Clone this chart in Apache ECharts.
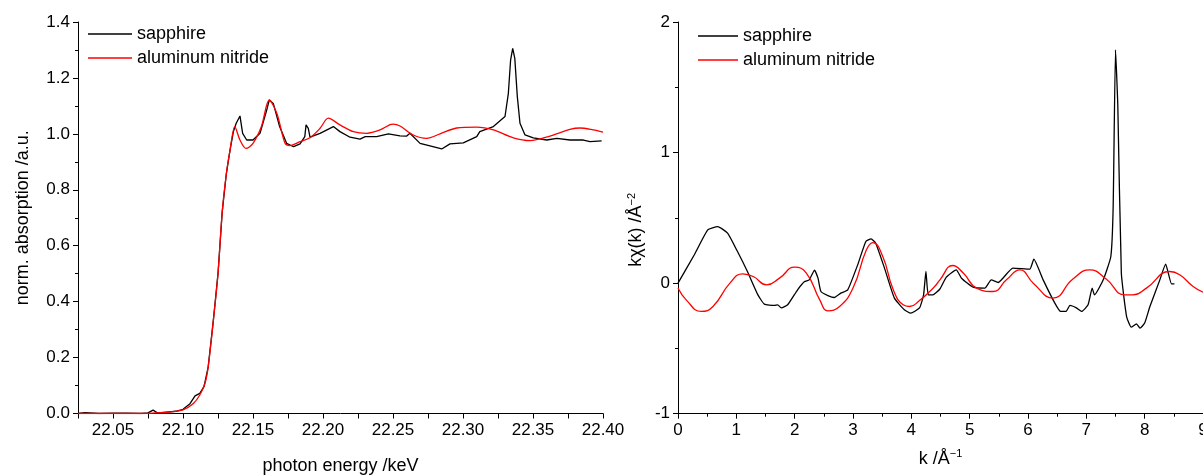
<!DOCTYPE html>
<html>
<head>
<meta charset="utf-8">
<script src="https://cdn.jsdelivr.net/npm/echarts@6/dist/echarts.min.js"></script>
<style>
  html, body { margin: 0; padding: 0; background: #fff; }
  #chart { width: 1203px; height: 475px; }
</style>
</head>
<body>
<div id="chart"></div>
<script>
// XANES (left)
var sapphireE = [22.025, 22.03, 22.04, 22.05, 22.06, 22.07, 22.075, 22.0786, 22.082, 22.09, 22.095, 22.10, 22.105, 22.1086, 22.112, 22.115, 22.118, 22.1217, 22.125, 22.128, 22.131, 22.1336, 22.136, 22.138, 22.1407, 22.1426, 22.1455, 22.150, 22.155, 22.1598, 22.1616, 22.1645, 22.169, 22.174, 22.179, 22.1836, 22.187, 22.1879, 22.1895, 22.1907, 22.1979, 22.2074, 22.2121, 22.2193, 22.2264, 22.2302, 22.2383, 22.2467, 22.255, 22.2598, 22.2621, 22.2693, 22.2764, 22.2848, 22.2907, 22.3002, 22.3098, 22.312, 22.3217, 22.33, 22.3324, 22.334, 22.3355, 22.337, 22.3388, 22.3407, 22.3443, 22.3502, 22.3598, 22.367, 22.3764, 22.386, 22.3907, 22.399];
var sapphireMu = [0, 0.003, 0, 0.001, 0.001, 0, 0.002, 0.012, 0.002, 0.006, 0.008, 0.015, 0.035, 0.063, 0.072, 0.096, 0.167, 0.334, 0.50, 0.72, 0.859, 0.942, 1.008, 1.038, 1.064, 1.002, 0.978, 0.978, 1.002, 1.085, 1.121, 1.109, 1.026, 0.966, 0.954, 0.964, 0.99, 1.032, 1.020, 0.988, 1.002, 1.026, 1.008, 0.988, 0.981, 0.99, 0.99, 1.0, 0.993, 0.992, 1.002, 0.966, 0.957, 0.946, 0.964, 0.968, 0.99, 1.008, 1.026, 1.062, 1.145, 1.264, 1.306, 1.27, 1.133, 1.038, 0.996, 0.986, 0.978, 0.984, 0.978, 0.978, 0.972, 0.975];

var alnE = [22.025, 22.05, 22.07, 22.08, 22.09, 22.10, 22.1074, 22.112, 22.1157, 22.118, 22.1217, 22.125, 22.128, 22.131, 22.1336, 22.137, 22.1407, 22.145, 22.150, 22.156, 22.1616, 22.167, 22.1729, 22.1764, 22.1836, 22.1907, 22.1979, 22.2038, 22.2121, 22.2217, 22.2312, 22.2407, 22.2479, 22.2502, 22.255, 22.2645, 22.274, 22.2836, 22.2955, 22.3098, 22.3217, 22.336, 22.3479, 22.3621, 22.3764, 22.3836, 22.393, 22.40];
var alnMu = [0, 0, 0, 0.002, 0.005, 0.013, 0.036, 0.066, 0.108, 0.167, 0.334, 0.50, 0.72, 0.859, 0.942, 1.026, 0.978, 0.948, 0.966, 1.026, 1.121, 1.074, 0.966, 0.958, 0.972, 0.986, 1.02, 1.056, 1.032, 1.008, 1.002, 1.014, 1.033, 1.035, 1.028, 0.996, 0.984, 1.0, 1.021, 1.024, 1.014, 0.986, 0.976, 0.992, 1.016, 1.021, 1.014, 1.006];

// EXAFS (right)
var sapphireK = [0, 0.28, 0.51, 0.68, 0.85, 1.02, 1.19, 1.37, 1.48, 1.65, 1.71, 1.77, 1.88, 2.05, 2.17, 2.25, 2.34, 2.40, 2.45, 2.57, 2.68, 2.79, 2.91, 3.08, 3.22, 3.31, 3.39, 3.54, 3.71, 3.88, 3.99, 4.14, 4.21, 4.25, 4.29, 4.37, 4.49, 4.60, 4.77, 4.86, 5.06, 5.26, 5.37, 5.49, 5.74, 6.03, 6.10, 6.26, 6.46, 6.56, 6.65, 6.72, 6.83, 6.92, 7.03, 7.10, 7.14, 7.29, 7.42, 7.46, 7.50, 7.54, 7.60, 7.69, 7.77, 7.86, 7.92, 8.00, 8.09, 8.26, 8.36, 8.46, 8.51];
var sapphireChi = [0, 0.217, 0.408, 0.433, 0.383, 0.242, 0.089, -0.09, -0.161, -0.171, -0.166, -0.19, -0.166, -0.051, 0.012, 0.025, 0.10, 0.038, -0.064, -0.095, -0.11, -0.077, -0.051, 0.14, 0.319, 0.339, 0.306, 0.115, -0.115, -0.204, -0.23, -0.19, -0.09, 0.089, -0.09, -0.09, -0.045, 0.046, 0.102, 0.038, -0.031, -0.038, 0.025, 0.005, 0.115, 0.107, 0.184, 0.025, -0.153, -0.217, -0.217, -0.171, -0.19, -0.217, -0.166, -0.038, -0.09, 0.025, 0.204, 0.587, 1.786, 1.352, 0.077, -0.256, -0.337, -0.312, -0.345, -0.306, -0.179, 0.025, 0.145, -0.005, -0.005];

var alnK = [0, 0.14, 0.40, 0.60, 0.89, 1.11, 1.29, 1.52, 1.74, 2.0, 2.20, 2.43, 2.57, 2.77, 3.0, 3.23, 3.34, 3.51, 3.69, 3.86, 3.97, 4.14, 4.40, 4.49, 4.71, 4.89, 5.12, 5.40, 5.63, 5.86, 6.09, 6.43, 6.77, 7.06, 7.34, 7.66, 7.80, 8.03, 8.43, 8.60, 8.83, 9.0];
var alnChi = [-0.038, -0.128, -0.217, -0.179, 0, 0.071, 0.051, -0.013, 0.038, 0.122, 0.077, -0.128, -0.212, -0.179, -0.038, 0.255, 0.311, 0.204, -0.051, -0.166, -0.179, -0.133, -0.026, 0.025, 0.135, 0.077, -0.038, -0.064, 0.025, 0.102, 0, -0.115, 0.031, 0.102, 0.031, -0.09, -0.09, -0.038, 0.089, 0.064, -0.026, -0.069];

function pairs(xs, ys) {
    return xs.map(function (x, i) { return [x, ys[i]]; });
}

var font = 'Liberation Sans, Arial, sans-serif';
var chart = echarts.init(document.getElementById('chart'), null, { renderer: 'canvas' });

var axisCommon = {
    axisLine: { show: true, onZero: false, lineStyle: { color: '#000', width: 1 } },
    axisTick: { show: true, inside: false, length: 5, lineStyle: { color: '#000' } },
    minorTick: { show: true, splitNumber: 2, length: 3, lineStyle: { color: '#000' } },
    splitLine: { show: false },
    axisLabel: { color: '#000', fontFamily: font, fontSize: 17, margin: 8 },
    nameTextStyle: { color: '#000', fontFamily: font, fontSize: 18 }
};

var supStyle = { fontFamily: font, fontSize: 11, verticalAlign: 'top', color: '#000' };

option = {
    animation: false,
    backgroundColor: '#fff',
    grid: [
        { left: 78, top: 22, width: 525, height: 391.5, outerBoundsMode: 'none', containLabel: false },
        { left: 678, top: 22, width: 525, height: 391.7, outerBoundsMode: 'none', containLabel: false }
    ],
    legend: [
        {
            orient: 'vertical', left: 83, top: 19,
            itemWidth: 44, itemHeight: 1.5, itemGap: 4, icon: 'rect',
            textStyle: { color: '#000', fontFamily: font, fontSize: 18, lineHeight: 20 },
            data: ['sapphire', 'aluminum nitride']
        },
        {
            orient: 'vertical', left: 693, top: 21,
            itemWidth: 40, itemHeight: 1.5, itemGap: 4, icon: 'rect',
            textStyle: { color: '#000', fontFamily: font, fontSize: 18, lineHeight: 20 },
            data: ['sapphire', 'aluminum nitride']
        }
    ],
    xAxis: [
        Object.assign({}, axisCommon, {
            gridIndex: 0, type: 'value',
            min: 22.025, max: 22.40, interval: 0.025,
            minorTick: { show: false },
            name: 'photon energy /keV', nameLocation: 'middle', nameGap: 44,
            axisLabel: Object.assign({}, axisCommon.axisLabel, {
                formatter: function (v) {
                    return Math.round(v * 1000) % 50 === 0 ? v.toFixed(2) : '';
                }
            })
        }),
        Object.assign({}, axisCommon, {
            gridIndex: 1, type: 'value',
            min: 0, max: 9, interval: 1,
            name: 'k /Å{sup|−1}', nameLocation: 'middle', nameGap: 35,
            nameTextStyle: {
                color: '#000', fontFamily: font, fontSize: 18, lineHeight: 20,
                rich: { sup: supStyle }
            }
        })
    ],
    yAxis: [
        Object.assign({}, axisCommon, {
            gridIndex: 0, type: 'value',
            min: 0, max: 1.4, interval: 0.2,
            name: 'norm. absorption /a.u.', nameLocation: 'middle', nameGap: 46,
            axisLabel: Object.assign({}, axisCommon.axisLabel, {
                formatter: function (v) { return v.toFixed(1); }
            })
        }),
        Object.assign({}, axisCommon, {
            gridIndex: 1, type: 'value',
            min: -1, max: 2, interval: 1,
            name: 'kχ(k) /Å{sup|−2}', nameLocation: 'middle', nameGap: 32,
            nameTextStyle: {
                color: '#000', fontFamily: font, fontSize: 18, lineHeight: 20,
                padding: [0, 24, 0, 0],
                rich: { sup: supStyle }
            }
        })
    ],
    series: [
        {
            name: 'sapphire', type: 'line', xAxisIndex: 0, yAxisIndex: 0,
            symbol: 'none', lineStyle: { color: '#000', width: 1.3 }, itemStyle: { color: '#000' },
            data: pairs(sapphireE, sapphireMu)
        },
        {
            name: 'aluminum nitride', type: 'line', xAxisIndex: 0, yAxisIndex: 0,
            symbol: 'none', smooth: 0.3,
            lineStyle: { color: '#ff0000', width: 1.3 }, itemStyle: { color: '#ff0000' },
            data: pairs(alnE, alnMu)
        },
        {
            name: 'sapphire', type: 'line', xAxisIndex: 1, yAxisIndex: 1,
            symbol: 'none', smooth: 0.15,
            lineStyle: { color: '#000', width: 1.3 }, itemStyle: { color: '#000' },
            data: pairs(sapphireK, sapphireChi)
        },
        {
            name: 'aluminum nitride', type: 'line', xAxisIndex: 1, yAxisIndex: 1,
            symbol: 'none', smooth: 0.5,
            lineStyle: { color: '#ff0000', width: 1.3 }, itemStyle: { color: '#ff0000' },
            data: pairs(alnK, alnChi)
        }
    ]
};

chart.setOption(option);
</script>
</body>
</html>
